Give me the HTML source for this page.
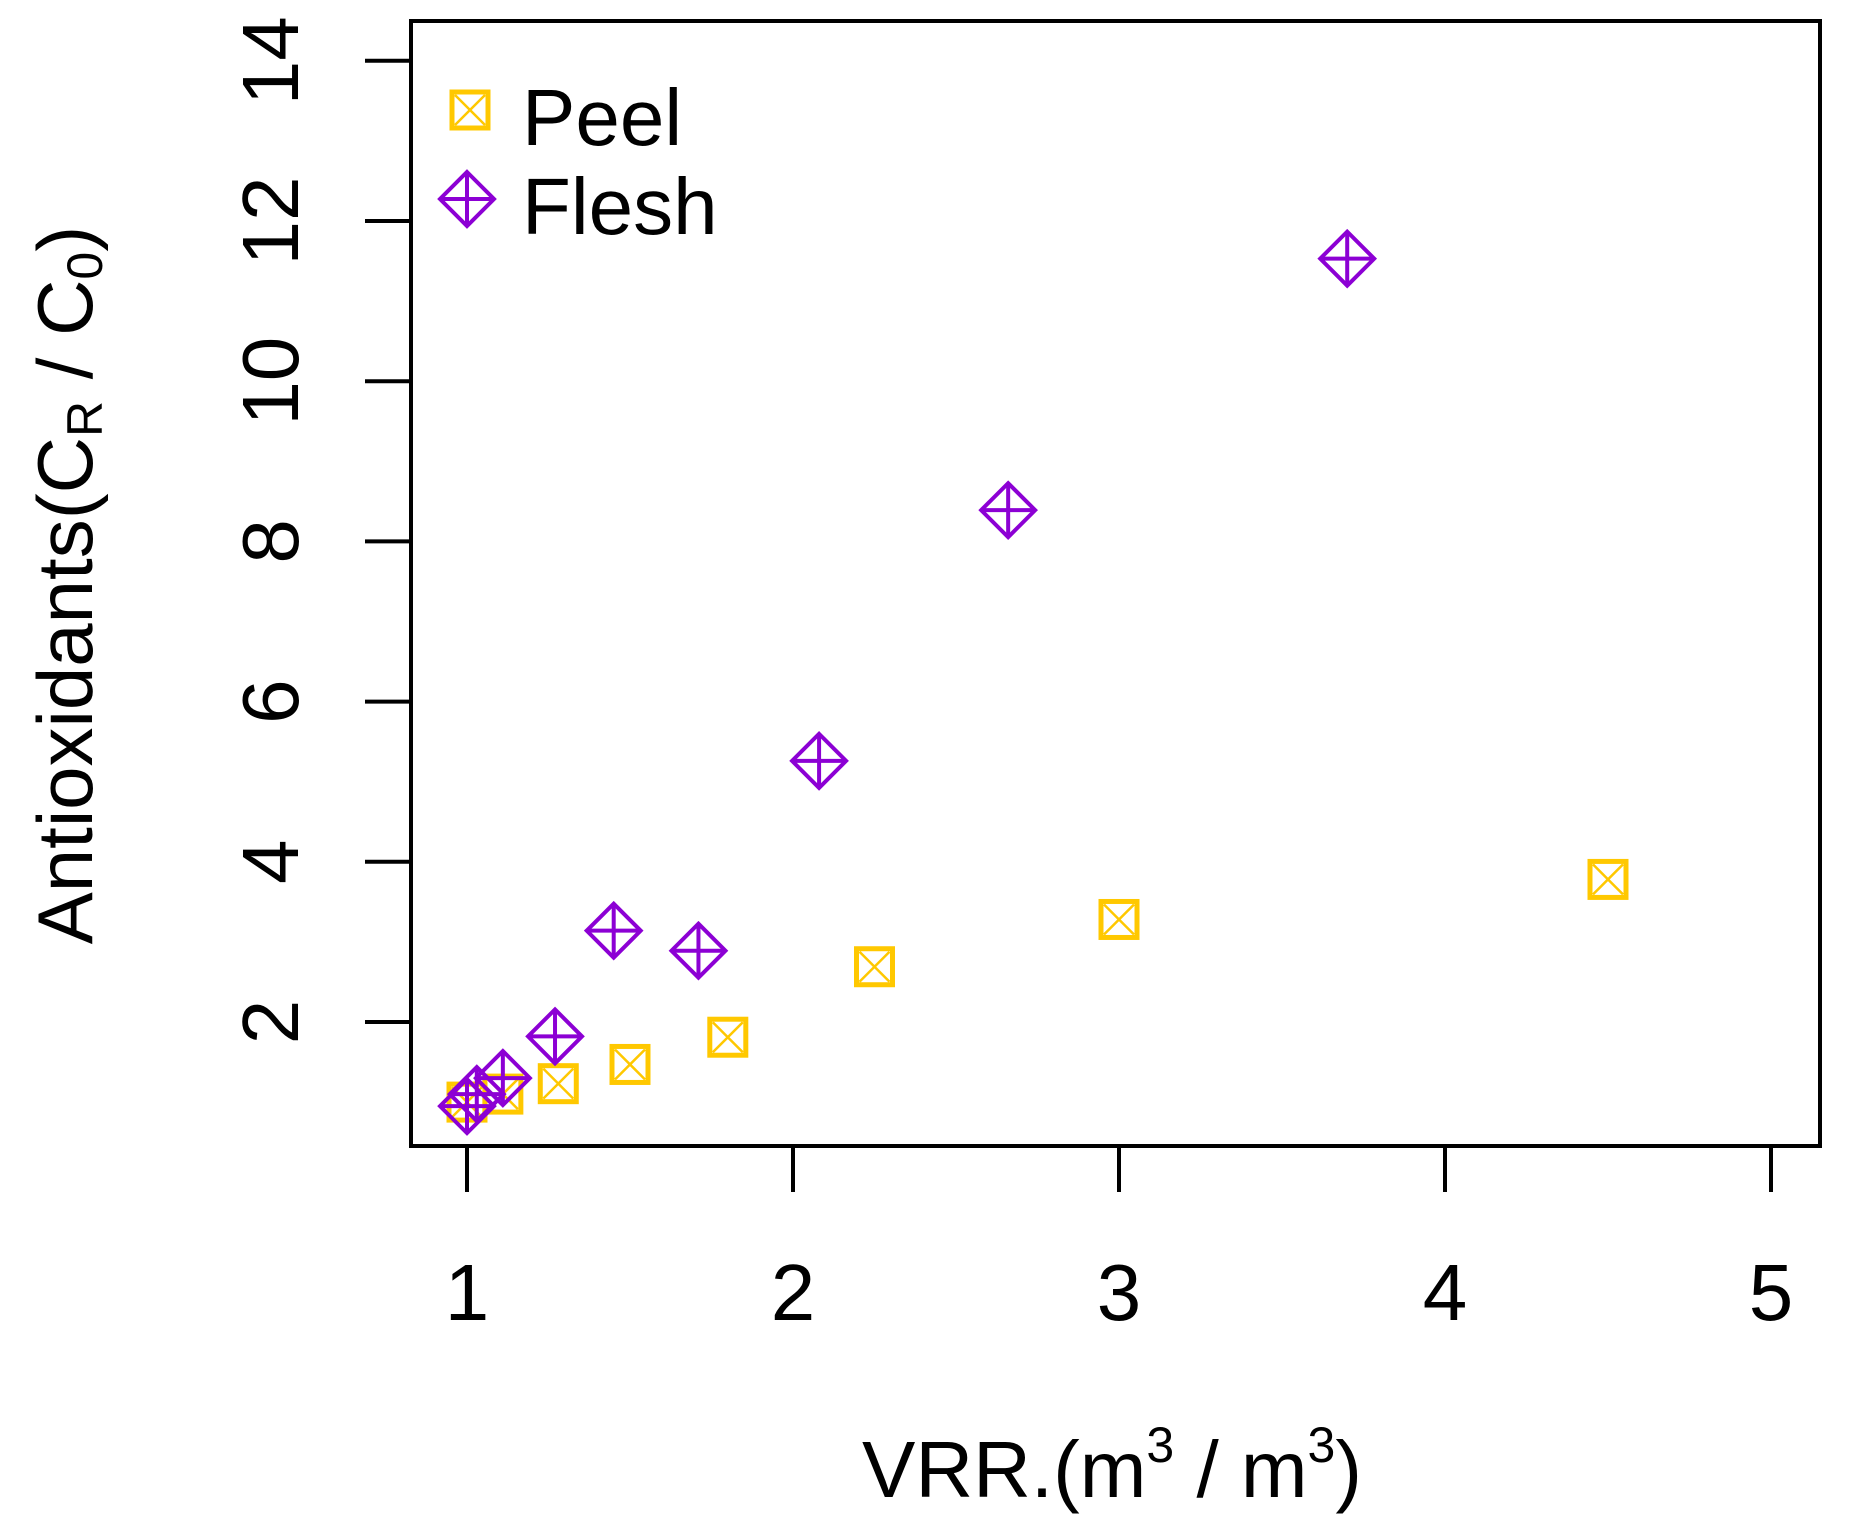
<!DOCTYPE html>
<html><head><meta charset="utf-8"><style>
html,body{margin:0;padding:0;background:#fff;}
svg{display:block;font-family:"Liberation Sans",Arial,sans-serif;}
</style></head><body>
<svg id="chart" width="1853" height="1535" viewBox="0 0 1853 1535" xmlns="http://www.w3.org/2000/svg">
<rect x="0" y="0" width="1853" height="1535" fill="#fff"/>
<g id="axes"></g>
<g id="marks"></g>
<g id="legend">
  <g>
    <rect x="452" y="92" width="36" height="36" fill="none" stroke="#FFC800" stroke-width="5"/>
    <line x1="455" y1="95" x2="485" y2="125" stroke="#FFC800" stroke-width="2.5"/>
    <line x1="485" y1="95" x2="455" y2="125" stroke="#FFC800" stroke-width="2.5"/>
    <text x="522" y="145" font-size="80" fill="#000">Peel</text>
  </g>
  <g>
    <path d="M467 172 L494 199 L467 226 L440 199 Z" fill="none" stroke="#8C00D4" stroke-width="4"/>
    <line x1="467" y1="172" x2="467" y2="226" stroke="#8C00D4" stroke-width="4"/>
    <line x1="440" y1="199" x2="494" y2="199" stroke="#8C00D4" stroke-width="4"/>
    <text x="522" y="234" font-size="80" fill="#000">Flesh</text>
  </g>
</g>
<text transform="translate(92,585) rotate(-90)" text-anchor="middle" font-size="78" fill="#000">Antioxidants(C<tspan font-size="50" dy="10">R</tspan><tspan dy="-10"> / C</tspan><tspan font-size="50" dy="10">0</tspan><tspan dy="-10">)</tspan></text>
<text x="1112" y="1497" text-anchor="middle" font-size="80" fill="#000">VRR.(m<tspan font-size="50" dy="-35">3</tspan><tspan dy="35"> / m</tspan><tspan font-size="50" dy="-35">3</tspan><tspan dy="35">)</tspan></text>
<script>
const peelX = [1.0, 1.11, 1.28, 1.5, 1.8, 2.25, 3.0, 4.5];
const peelY = [1.0, 1.1, 1.23, 1.47, 1.81, 2.69, 3.28, 3.78];
const fleshX = [1.0, 1.03, 1.11, 1.27, 1.45, 1.71, 2.08, 2.66, 3.7];
const fleshY = [0.95, 1.1, 1.3, 1.82, 3.14, 2.89, 5.26, 8.39, 11.53];
const xTicks = [1, 2, 3, 4, 5];
const yTicks = [2, 4, 6, 8, 10, 12, 14];

const NS = "http://www.w3.org/2000/svg";
const L = 411, R = 1820, T = 21, B = 1146;
function xs(v){ return 467 + (v - 1) * 326; }
function ys(v){ return 1022 - (v - 2) * 80.1; }
function mk(tag, attrs, parent){
  const e = document.createElementNS(NS, tag);
  for (const k in attrs) e.setAttribute(k, attrs[k]);
  parent.appendChild(e);
  return e;
}
const axes = document.getElementById('axes');
const marks = document.getElementById('marks');
const box = mk('rect', {x:L, y:T, width:R-L, height:B-T, fill:'none', stroke:'#000', 'stroke-width':4}, axes);


xTicks.forEach(t => {
  const ln = mk('line', {x1:xs(t), y1:B, x2:xs(t), y2:B+46, stroke:'#000', 'stroke-width':4}, axes);
  
  
  const tx = mk('text', {x:xs(t), y:1320, 'text-anchor':'middle', 'font-size':80, fill:'#000'}, axes);
  tx.textContent = t;
  
  
});
yTicks.forEach(t => {
  const ln = mk('line', {x1:L-46, y1:ys(t), x2:L, y2:ys(t), stroke:'#000', 'stroke-width':4}, axes);
  
  
  const tx = mk('text', {x:0, y:0, 'text-anchor':'middle', 'font-size':80, fill:'#000', transform:'translate(298,'+ys(t)+') rotate(-90)'}, axes);
  tx.textContent = t;
  
  
});
peelX.forEach((v, i) => {
  const cx = xs(v), cy = ys(peelY[i]);
  const g = mk('g', {}, marks);
  
  
  mk('rect', {x:cx-18, y:cy-18, width:36, height:36, fill:'none', stroke:'#FFC800', 'stroke-width':5}, g);
  mk('line', {x1:cx-15, y1:cy-15, x2:cx+15, y2:cy+15, stroke:'#FFC800', 'stroke-width':2.5}, g);
  mk('line', {x1:cx+15, y1:cy-15, x2:cx-15, y2:cy+15, stroke:'#FFC800', 'stroke-width':2.5}, g);
});
fleshX.forEach((v, i) => {
  const cx = xs(v), cy = ys(fleshY[i]);
  const g = mk('g', {}, marks);
  
  
  mk('path', {d:`M${cx} ${cy-27} L${cx+27} ${cy} L${cx} ${cy+27} L${cx-27} ${cy} Z`, fill:'none', stroke:'#8C00D4', 'stroke-width':4}, g);
  mk('line', {x1:cx, y1:cy-27, x2:cx, y2:cy+27, stroke:'#8C00D4', 'stroke-width':4}, g);
  mk('line', {x1:cx-27, y1:cy, x2:cx+27, y2:cy, stroke:'#8C00D4', 'stroke-width':4}, g);
});
</script>
</svg>
</body></html>
